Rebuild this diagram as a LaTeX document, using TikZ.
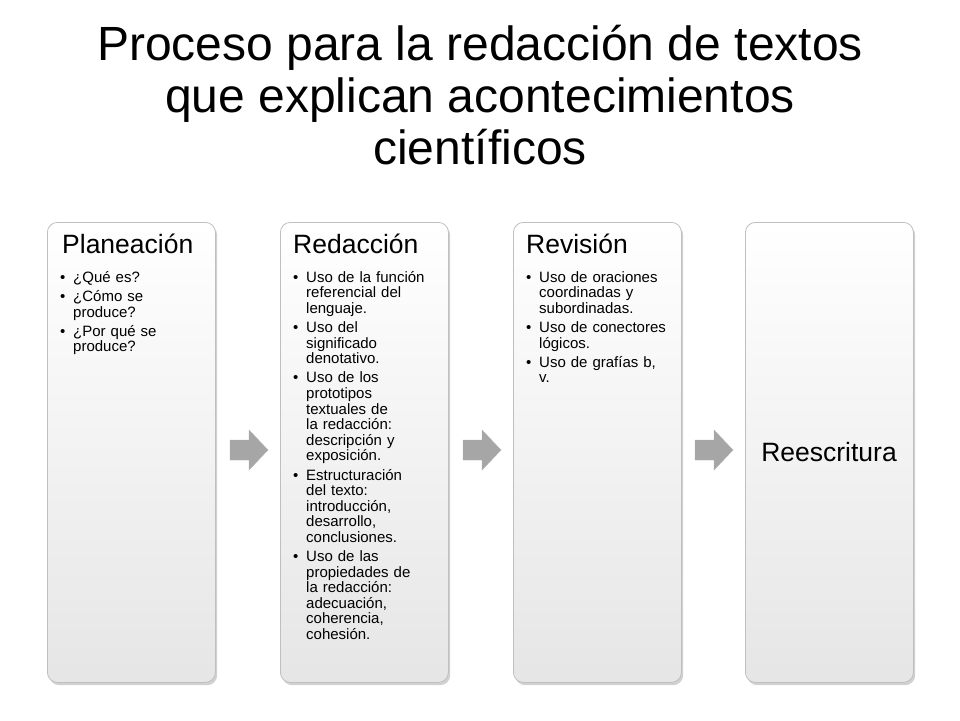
\documentclass[tikz,border=0pt]{standalone}
\usepackage{fontspec}
\setmainfont{Liberation Sans}
\tikzset{
  card/.style={draw=black!25, line width=0.8pt, rounded corners=10pt, top color=white, bottom color=black!10, minimum width=168pt, minimum height=460pt, anchor=north west, inner sep=0pt},
  shadowcard/.style={fill=black!18, rounded corners=10pt, minimum width=168pt, minimum height=460pt, anchor=north west, inner sep=0pt},
  body/.style={anchor=north west, text width=140pt, align=left, inner sep=0pt, font=\fontsize{15}{15.6}\selectfont},
  head/.style={anchor=base west, inner sep=0pt, font=\fontsize{26.5}{30}\selectfont},
  garrow/.style={fill=black!35, draw=black!30}
}
\newcommand{\bi}[1]{\par\vspace{3.5pt}\hangindent=13pt\hangafter=1\noindent\makebox[13pt][l]{\textbullet}#1\par}
\begin{document}
\begin{tikzpicture}[x=1pt,y=-1pt]
\useasboundingbox (0,0) rectangle (960,720);
\node[align=center, font=\fontsize{48}{52}\selectfont, inner sep=0pt] (title) at (480,95) {Proceso para la redacción de textos\\que explican acontecimientos\\científicos};
\foreach \x/\n in {47/a,280/b,513/c,745/d}{
  \node[shadowcard] at (\x+2,225) {};
  \node[card] (\n) at (\x,222) {};
}
\node[head] (ha) at (62,253) {Planeación};
\node[body, text width=130pt] (ba) at (60,263) {\hyphenpenalty=10000\exhyphenpenalty=10000\bi{¿Qué es?}\bi{¿Cómo se produce?}\bi{¿Por qué se produce?}};
\node[head] (hb) at (293,253) {Redacción};
\node[body] (bb) at (293,263) {\hyphenpenalty=10000\exhyphenpenalty=10000\bi{Uso de la función referencial del lenguaje.}\bi{Uso del significado denotativo.}\bi{Uso de los prototipos textuales de la redacción: descripción y exposición.}\bi{Estructuración del texto: introducción, desarrollo, conclusiones.}\bi{Uso de las propiedades de la redacción: adecuación, coherencia, cohesión.}};
\node[head] (hc) at (526,253) {Revisión};
\node[body] (bc) at (526,263) {\hyphenpenalty=10000\exhyphenpenalty=10000\bi{Uso de oraciones coordinadas y subordinadas.}\bi{Uso de conectores lógicos.}\bi{Uso de grafías b, v.}};
\node[font=\fontsize{26.5}{30}\selectfont, inner sep=0pt] (hd) at (829,452) {Reescritura};
\foreach \x/\n in {230/p,463/q,695/r}{
  \draw[garrow] (\x,440) -- (\x+19,440) -- (\x+19,430) -- (\x+38,450) -- (\x+19,470) -- (\x+19,460) -- (\x,460) -- cycle;
}
\end{tikzpicture}
\end{document}
